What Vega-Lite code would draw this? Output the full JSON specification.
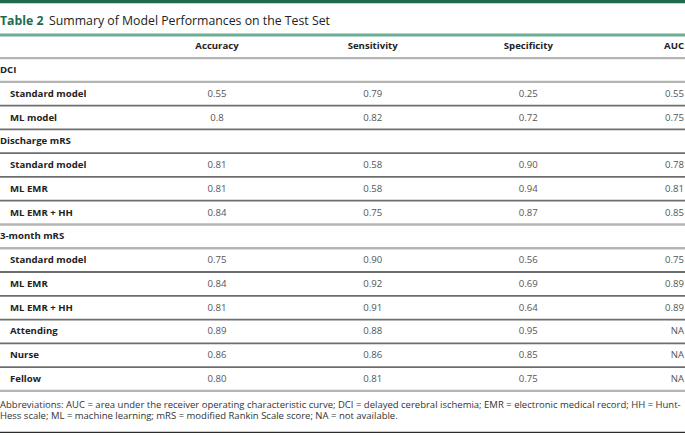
{
  "$schema": "https://vega.github.io/schema/vega-lite/v6.json",
  "width": 685,
  "height": 435,
  "autosize": {"type": "none"},
  "padding": 0,
  "background": "white",
  "config": {"view": {"stroke": null}, "text": {"font": "Open Sans"}},
  "datasets": {
    "labels": [
      {"row": 1, "label": "DCI", "kind": "group"},
      {"row": 2, "label": "Standard model", "kind": "sub"},
      {"row": 3, "label": "ML model", "kind": "sub"},
      {"row": 4, "label": "Discharge mRS", "kind": "group"},
      {"row": 5, "label": "Standard model", "kind": "sub"},
      {"row": 6, "label": "ML EMR", "kind": "sub"},
      {"row": 7, "label": "ML EMR + HH", "kind": "sub"},
      {"row": 8, "label": "3-month mRS", "kind": "group"},
      {"row": 9, "label": "Standard model", "kind": "sub"},
      {"row": 10, "label": "ML EMR", "kind": "sub"},
      {"row": 11, "label": "ML EMR + HH", "kind": "sub"},
      {"row": 12, "label": "Attending", "kind": "sub"},
      {"row": 13, "label": "Nurse", "kind": "sub"},
      {"row": 14, "label": "Fellow", "kind": "sub"}
    ],
    "headers": [
      {"row": 0, "metric": "Accuracy"},
      {"row": 0, "metric": "Sensitivity"},
      {"row": 0, "metric": "Specificity"},
      {"row": 0, "metric": "AUC"}
    ],
    "cells": [
      {"row": 2, "metric": "Accuracy", "value": "0.55"},
      {"row": 2, "metric": "Sensitivity", "value": "0.79"},
      {"row": 2, "metric": "Specificity", "value": "0.25"},
      {"row": 2, "metric": "AUC", "value": "0.55"},
      {"row": 3, "metric": "Accuracy", "value": "0.8"},
      {"row": 3, "metric": "Sensitivity", "value": "0.82"},
      {"row": 3, "metric": "Specificity", "value": "0.72"},
      {"row": 3, "metric": "AUC", "value": "0.75"},
      {"row": 5, "metric": "Accuracy", "value": "0.81"},
      {"row": 5, "metric": "Sensitivity", "value": "0.58"},
      {"row": 5, "metric": "Specificity", "value": "0.90"},
      {"row": 5, "metric": "AUC", "value": "0.78"},
      {"row": 6, "metric": "Accuracy", "value": "0.81"},
      {"row": 6, "metric": "Sensitivity", "value": "0.58"},
      {"row": 6, "metric": "Specificity", "value": "0.94"},
      {"row": 6, "metric": "AUC", "value": "0.81"},
      {"row": 7, "metric": "Accuracy", "value": "0.84"},
      {"row": 7, "metric": "Sensitivity", "value": "0.75"},
      {"row": 7, "metric": "Specificity", "value": "0.87"},
      {"row": 7, "metric": "AUC", "value": "0.85"},
      {"row": 9, "metric": "Accuracy", "value": "0.75"},
      {"row": 9, "metric": "Sensitivity", "value": "0.90"},
      {"row": 9, "metric": "Specificity", "value": "0.56"},
      {"row": 9, "metric": "AUC", "value": "0.75"},
      {"row": 10, "metric": "Accuracy", "value": "0.84"},
      {"row": 10, "metric": "Sensitivity", "value": "0.92"},
      {"row": 10, "metric": "Specificity", "value": "0.69"},
      {"row": 10, "metric": "AUC", "value": "0.89"},
      {"row": 11, "metric": "Accuracy", "value": "0.81"},
      {"row": 11, "metric": "Sensitivity", "value": "0.91"},
      {"row": 11, "metric": "Specificity", "value": "0.64"},
      {"row": 11, "metric": "AUC", "value": "0.89"},
      {"row": 12, "metric": "Accuracy", "value": "0.89"},
      {"row": 12, "metric": "Sensitivity", "value": "0.88"},
      {"row": 12, "metric": "Specificity", "value": "0.95"},
      {"row": 12, "metric": "AUC", "value": "NA"},
      {"row": 13, "metric": "Accuracy", "value": "0.86"},
      {"row": 13, "metric": "Sensitivity", "value": "0.86"},
      {"row": 13, "metric": "Specificity", "value": "0.85"},
      {"row": 13, "metric": "AUC", "value": "NA"},
      {"row": 14, "metric": "Accuracy", "value": "0.80"},
      {"row": 14, "metric": "Sensitivity", "value": "0.81"},
      {"row": 14, "metric": "Specificity", "value": "0.75"},
      {"row": 14, "metric": "AUC", "value": "NA"}
    ],
    "rules": [
      {"row": -1.88, "style": "bar"},
      {"row": -0.47, "style": "green"},
      {"row": 0.5, "style": "light"},
      {"row": 1.5, "style": "light"},
      {"row": 2.5, "style": "dark"},
      {"row": 3.5, "style": "dark"},
      {"row": 4.5, "style": "dark"},
      {"row": 5.5, "style": "dark"},
      {"row": 6.5, "style": "dark"},
      {"row": 7.5, "style": "light"},
      {"row": 8.5, "style": "light"},
      {"row": 9.5, "style": "dark"},
      {"row": 10.5, "style": "dark"},
      {"row": 11.5, "style": "dark"},
      {"row": 12.5, "style": "dark"},
      {"row": 13.5, "style": "dark"},
      {"row": 14.5, "style": "light"},
      {"row": 16.25, "style": "black"}
    ],
    "titles": [
      {"row": -1.06, "kind": "group", "part": "label", "text": "Table 2"},
      {"row": -1.06, "kind": "group", "part": "rest", "text": "Summary of Model Performances on the Test Set"}
    ],
    "notes": [
      {"row": 15.08, "kind": "group", "text": "Abbreviations: AUC = area under the receiver operating characteristic curve; DCI = delayed cerebral ischemia; EMR = electronic medical record; HH = Hunt-"},
      {"row": 15.55, "kind": "group", "text": "Hess scale; ML = machine learning; mRS = modified Rankin Scale score; NA = not available."}
    ]
  },
  "resolve": {"scale": {"x": "independent"}},
  "layer": [
    {
      "data": {"name": "rules"},
      "mark": {"type": "rule"},
      "encoding": {
        "y": {"field": "row", "type": "quantitative", "axis": null, "scale": {"domain": [-1.9436, 16.357], "reverse": true, "zero": false, "nice": false}},
        "color": {"field": "style", "type": "nominal", "legend": null, "scale": {"domain": ["bar", "green", "light", "dark", "black"], "range": ["#1d6b4d", "#6aae93", "#b5b5b5", "#6e6e6e", "#2a2a2a"]}},
        "size": {"field": "style", "type": "nominal", "legend": null, "scale": {"domain": ["bar", "green", "light", "dark", "black"], "range": [3.5, 1.2, 2.2, 1.1, 1.6]}}
      }
    },
    {
      "data": {"name": "labels"},
      "mark": {"type": "text", "align": "left", "baseline": "middle", "fontWeight": "bold", "fontSize": 9.6, "color": "#222222"},
      "encoding": {
        "y": {"field": "row", "type": "quantitative", "axis": null, "scale": {"domain": [-1.9436, 16.357], "reverse": true, "zero": false, "nice": false}},
        "x": {"field": "kind", "type": "nominal", "axis": null, "scale": {"type": "point", "domain": ["group", "sub"], "range": [0, 10], "padding": 0}},
        "text": {"field": "label"}
      }
    },
    {
      "data": {"name": "titles"},
      "transform": [{"filter": "datum.part === 'label'"}],
      "mark": {"type": "text", "align": "left", "baseline": "middle", "fontWeight": "bold", "fontSize": 12.3, "color": "#1d6b4d"},
      "encoding": {
        "y": {"field": "row", "type": "quantitative", "axis": null, "scale": {"domain": [-1.9436, 16.357], "reverse": true, "zero": false, "nice": false}},
        "x": {"field": "kind", "type": "nominal", "axis": null, "scale": {"type": "point", "domain": ["group", "sub"], "range": [0, 10], "padding": 0}},
        "text": {"field": "text"}
      }
    },
    {
      "data": {"name": "titles"},
      "transform": [{"filter": "datum.part === 'rest'"}],
      "mark": {"type": "text", "align": "left", "baseline": "middle", "fontSize": 12.3, "color": "#222222", "dx": 49},
      "encoding": {
        "y": {"field": "row", "type": "quantitative", "axis": null, "scale": {"domain": [-1.9436, 16.357], "reverse": true, "zero": false, "nice": false}},
        "x": {"field": "kind", "type": "nominal", "axis": null, "scale": {"type": "point", "domain": ["group", "sub"], "range": [0, 10], "padding": 0}},
        "text": {"field": "text"}
      }
    },
    {
      "data": {"name": "notes"},
      "mark": {"type": "text", "align": "left", "baseline": "middle", "fontSize": 9.5, "color": "#333333"},
      "encoding": {
        "y": {"field": "row", "type": "quantitative", "axis": null, "scale": {"domain": [-1.9436, 16.357], "reverse": true, "zero": false, "nice": false}},
        "x": {"field": "kind", "type": "nominal", "axis": null, "scale": {"type": "point", "domain": ["group", "sub"], "range": [0, 10], "padding": 0}},
        "text": {"field": "text"}
      }
    },
    {
      "data": {"name": "headers"},
      "transform": [{"filter": "datum.metric !== 'AUC'"}],
      "mark": {"type": "text", "align": "center", "baseline": "middle", "fontWeight": "bold", "fontSize": 9.6, "color": "#222222"},
      "encoding": {
        "y": {"field": "row", "type": "quantitative", "axis": null, "scale": {"domain": [-1.9436, 16.357], "reverse": true, "zero": false, "nice": false}},
        "x": {"field": "metric", "type": "nominal", "axis": null, "scale": {"type": "point", "domain": ["Accuracy", "Sensitivity", "Specificity", "AUC"], "range": [217, 684], "padding": 0}},
        "text": {"field": "metric"}
      }
    },
    {
      "data": {"name": "headers"},
      "transform": [{"filter": "datum.metric === 'AUC'"}],
      "mark": {"type": "text", "align": "right", "baseline": "middle", "fontWeight": "bold", "fontSize": 9.6, "color": "#222222"},
      "encoding": {
        "y": {"field": "row", "type": "quantitative", "axis": null, "scale": {"domain": [-1.9436, 16.357], "reverse": true, "zero": false, "nice": false}},
        "x": {"field": "metric", "type": "nominal", "axis": null, "scale": {"type": "point", "domain": ["Accuracy", "Sensitivity", "Specificity", "AUC"], "range": [217, 684], "padding": 0}},
        "text": {"field": "metric"}
      }
    },
    {
      "data": {"name": "cells"},
      "transform": [{"filter": "datum.metric !== 'AUC'"}],
      "mark": {"type": "text", "align": "center", "baseline": "middle", "fontSize": 9.6, "color": "#555555"},
      "encoding": {
        "y": {"field": "row", "type": "quantitative", "axis": null, "scale": {"domain": [-1.9436, 16.357], "reverse": true, "zero": false, "nice": false}},
        "x": {"field": "metric", "type": "nominal", "axis": null, "scale": {"type": "point", "domain": ["Accuracy", "Sensitivity", "Specificity", "AUC"], "range": [217, 684], "padding": 0}},
        "text": {"field": "value"}
      }
    },
    {
      "data": {"name": "cells"},
      "transform": [{"filter": "datum.metric === 'AUC'"}],
      "mark": {"type": "text", "align": "right", "baseline": "middle", "fontSize": 9.6, "color": "#555555"},
      "encoding": {
        "y": {"field": "row", "type": "quantitative", "axis": null, "scale": {"domain": [-1.9436, 16.357], "reverse": true, "zero": false, "nice": false}},
        "x": {"field": "metric", "type": "nominal", "axis": null, "scale": {"type": "point", "domain": ["Accuracy", "Sensitivity", "Specificity", "AUC"], "range": [217, 684], "padding": 0}},
        "text": {"field": "value"}
      }
    }
  ]
}
